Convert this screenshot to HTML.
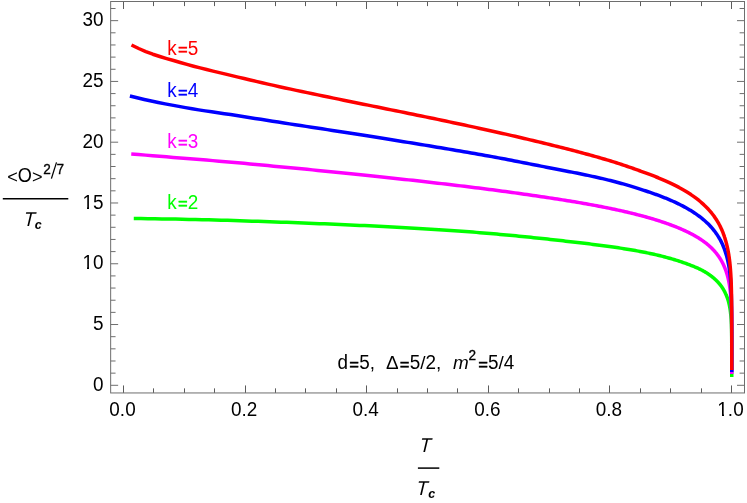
<!DOCTYPE html>
<html><head><meta charset="utf-8"><title>plot</title>
<style>html,body{margin:0;padding:0;background:#fff;}body{width:747px;height:503px;overflow:hidden;font-family:"Liberation Sans",sans-serif;}</style></head>
<body>
<svg width="747" height="503" viewBox="0 0 747 503" style="display:block;will-change:transform">
<rect width="747" height="503" fill="#fff"/>
<path d="M133.76 218.54 L140.91 218.61 L147.99 218.69 L155.00 218.78 L161.94 218.88 L168.81 218.99 L175.61 219.11 L182.34 219.24 L189.00 219.38 L195.60 219.53 L202.13 219.69 L208.59 219.85 L214.99 220.02 L221.32 220.19 L227.58 220.37 L233.78 220.56 L239.92 220.74 L246.00 220.94 L252.01 221.13 L257.96 221.33 L263.85 221.53 L269.68 221.73 L275.44 221.94 L281.15 222.15 L286.80 222.36 L292.38 222.57 L297.91 222.79 L303.38 223.00 L308.80 223.21 L314.15 223.43 L319.45 223.64 L324.70 223.85 L329.88 224.07 L335.02 224.29 L340.09 224.50 L345.12 224.72 L350.09 224.94 L355.00 225.16 L359.87 225.38 L364.68 225.60 L369.44 225.83 L374.14 226.05 L378.80 226.28 L383.40 226.51 L387.96 226.74 L392.47 226.98 L396.92 227.21 L401.33 227.45 L405.69 227.69 L410.00 227.93 L414.26 228.18 L418.48 228.42 L422.65 228.67 L426.77 228.92 L430.84 229.18 L434.88 229.43 L438.86 229.69 L442.80 229.95 L446.70 230.21 L450.55 230.47 L454.36 230.74 L458.13 231.01 L461.85 231.28 L465.53 231.55 L469.17 231.82 L472.77 232.10 L476.33 232.38 L479.84 232.66 L483.32 232.94 L486.75 233.23 L490.15 233.52 L493.50 233.80 L496.82 234.09 L500.10 234.39 L503.34 234.68 L506.54 234.97 L509.71 235.27 L512.83 235.56 L515.92 235.86 L518.98 236.15 L522.00 236.45 L524.98 236.75 L527.92 237.04 L530.84 237.34 L533.71 237.64 L536.56 237.93 L539.36 238.23 L542.14 238.52 L544.88 238.82 L547.59 239.11 L550.26 239.40 L552.90 239.70 L555.52 239.99 L558.09 240.28 L560.64 240.57 L563.16 240.86 L565.64 241.15 L568.09 241.43 L570.52 241.71 L572.91 241.98 L575.28 242.26 L577.61 242.53 L579.92 242.80 L582.19 243.07 L584.44 243.33 L586.66 243.60 L588.85 243.86 L591.02 244.13 L593.15 244.39 L595.26 244.66 L597.35 244.92 L599.40 245.18 L601.43 245.45 L603.43 245.71 L605.41 245.97 L607.36 246.24 L609.29 246.50 L611.19 246.77 L613.07 247.03 L614.92 247.30 L616.75 247.57 L618.56 247.84 L620.34 248.11 L622.10 248.38 L623.83 248.65 L625.54 248.92 L627.23 249.19 L628.90 249.47 L630.54 249.74 L632.16 250.02 L633.76 250.30 L635.34 250.58 L636.90 250.86 L638.43 251.14 L639.95 251.42 L641.44 251.71 L642.92 251.99 L644.37 252.28 L645.81 252.57 L647.22 252.86 L648.62 253.15 L649.99 253.44 L651.35 253.73 L652.68 254.03 L654.00 254.32 L655.30 254.62 L656.59 254.92 L657.85 255.22 L659.10 255.52 L660.33 255.82 L661.54 256.12 L662.73 256.42 L663.91 256.72 L665.07 257.03 L666.21 257.33 L667.34 257.64 L668.45 257.94 L669.55 258.25 L670.63 258.55 L671.69 258.86 L672.74 259.16 L673.77 259.47 L674.79 259.78 L675.79 260.08 L676.78 260.39 L677.75 260.69 L678.71 261.00 L679.65 261.31 L680.58 261.61 L681.50 261.92 L682.40 262.22 L683.29 262.53 L684.16 262.84 L685.03 263.14 L685.87 263.45 L686.71 263.75 L687.53 264.06 L688.34 264.36 L689.14 264.67 L689.93 264.97 L690.70 265.27 L691.46 265.57 L692.21 265.87 L692.95 266.16 L693.68 266.46 L694.39 266.75 L695.09 267.04 L695.79 267.34 L696.47 267.63 L697.14 267.93 L697.80 268.22 L698.45 268.52 L699.09 268.81 L699.71 269.11 L700.33 269.41 L700.94 269.71 L701.54 270.01 L702.13 270.32 L702.71 270.62 L703.27 270.93 L703.83 271.24 L704.39 271.55 L704.93 271.87 L705.46 272.18 L705.98 272.50 L706.50 272.82 L707.00 273.14 L707.50 273.46 L707.99 273.78 L708.47 274.11 L708.94 274.43 L709.41 274.76 L709.86 275.08 L710.31 275.40 L710.75 275.73 L711.18 276.06 L711.61 276.38 L712.03 276.71 L712.44 277.03 L712.84 277.36 L713.24 277.69 L713.63 278.01 L714.01 278.34 L714.39 278.67 L714.75 279.00 L715.12 279.33 L715.47 279.66 L715.82 279.98 L716.16 280.31 L716.50 280.64 L716.83 280.97 L717.15 281.30 L717.47 281.63 L717.78 281.96 L718.09 282.30 L718.39 282.63 L718.69 282.96 L718.98 283.29 L719.26 283.62 L719.54 283.95 L719.81 284.29 L720.08 284.62 L720.34 284.95 L720.60 285.29 L720.85 285.62 L721.10 285.95 L721.35 286.29 L721.58 286.62 L721.82 286.96 L722.05 287.29 L722.27 287.63 L722.49 287.96 L722.71 288.30 L722.92 288.63 L723.13 288.97 L723.33 289.31 L723.53 289.64 L723.72 289.98 L723.91 290.32 L724.10 290.65 L724.28 290.99 L724.46 291.33 L724.64 291.67 L724.81 292.00 L724.98 292.34 L725.14 292.68 L725.30 293.02 L725.46 293.36 L725.63 293.70 L725.78 294.04 L725.94 294.38 L726.09 294.72 L726.23 295.06 L726.38 295.40 L726.52 295.74 L726.66 296.08 L726.79 296.42 L726.92 296.76 L727.05 297.11 L727.18 297.45 L727.30 297.79 L727.42 298.13 L727.54 298.47 L727.66 298.82 L727.77 299.16 L727.88 299.50 L727.99 299.85 L728.09 300.19 L728.19 300.53 L728.29 300.88 L728.39 301.22 L728.49 301.57 L728.58 301.91 L728.67 302.26 L728.76 302.60 L728.84 302.95 L728.93 303.30 L729.01 303.64 L729.09 303.99 L729.17 304.34 L729.25 304.68 L729.32 305.03 L729.39 305.38 L729.46 305.73 L729.53 306.07 L729.60 306.42 L729.67 306.77 L729.73 307.12 L729.79 307.47 L729.85 307.82 L729.91 308.17 L729.97 308.52 L730.03 308.87 L730.08 309.22 L730.13 309.57 L730.19 309.92 L730.24 310.27 L730.29 310.62 L730.33 310.97 L730.38 311.33 L730.42 311.68 L730.47 312.03 L730.51 312.38 L730.55 312.74 L730.59 313.09 L730.63 313.44 L730.67 313.80 L730.71 314.15 L730.74 314.51 L730.78 314.86 L730.81 315.22 L730.84 315.57 L730.88 315.93 L730.91 316.29 L730.94 316.64 L730.97 317.00 L730.99 317.36 L731.02 317.71 L731.05 318.07 L731.07 318.43 L731.10 318.79 L731.12 319.15 L731.15 319.51 L731.17 319.87 L731.19 320.22 L731.21 320.58 L731.23 320.95 L731.25 321.31 L731.27 321.67 L731.29 322.03 L731.31 322.39 L731.33 322.75 L731.34 323.11 L731.36 323.48 L731.38 323.84 L731.39 324.20 L731.41 324.57 L731.42 324.93 L731.43 325.30 L731.45 325.66 L731.46 326.03 L731.47 326.39 L731.48 326.76 L731.49 327.13 L731.51 327.49 L731.52 327.86 L731.53 328.23 L731.54 328.59 L731.55 328.96 L731.56 329.33 L731.56 329.70 L731.57 330.07 L731.58 330.44 L731.59 330.81 L731.60 331.18 L731.60 331.55 L731.61 331.93 L731.62 332.30 L731.62 332.67 L731.63 333.04 L731.64 333.42 L731.64 333.79 L731.65 334.16 L731.65 334.54 L731.66 334.92 L731.66 335.29 L731.67 335.67 L731.67 336.04 L731.67 336.42 L731.68 336.80 L731.68 337.18 L731.69 337.56 L731.69 337.93 L731.69 338.31 L731.70 338.69 L731.70 339.08 L731.70 339.46 L731.70 339.84 L731.71 340.22 L731.71 340.60 L731.71 340.99 L731.71 341.37 L731.72 341.76 L731.72 342.14 L731.72 342.53 L731.72 342.91 L731.72 343.30 L731.73 343.69 L731.73 344.07 L731.73 344.46 L731.73 344.85 L731.73 345.24 L731.73 345.63 L731.73 346.02 L731.73 346.42 L731.74 346.81 L731.74 347.20 L731.74 347.59 L731.74 347.99 L731.74 348.38 L731.74 348.78 L731.74 349.18 L731.74 349.57 L731.74 349.97 L731.74 350.37 L731.74 350.77 L731.74 351.17 L731.74 351.57 L731.74 351.97 L731.75 352.38 L731.75 352.78 L731.75 353.18 L731.75 353.59 L731.75 354.00 L731.75 354.40 L731.75 354.81 L731.75 355.22 L731.75 355.63 L731.75 356.04 L731.75 356.45 L731.75 356.86 L731.75 357.28 L731.75 357.69 L731.75 358.11 L731.75 358.53 L731.75 358.94 L731.75 359.36 L731.75 359.78 L731.75 360.20 L731.75 360.63 L731.75 361.05 L731.75 361.47 L731.75 361.90 L731.75 362.33 L731.75 362.76 L731.75 363.19 L731.75 363.62 L731.75 364.05 L731.75 364.49 L731.75 364.92 L731.75 365.36 L731.75 365.80 L731.75 366.24 L731.75 366.68 L731.75 367.12 L731.75 367.57 L731.75 368.02 L731.75 368.47 L731.75 368.92 L731.75 369.37 L731.75 369.83 L731.75 370.29 L731.75 370.75 L731.75 371.21 L731.75 371.68 L731.75 372.15 L731.75 372.62 L731.75 373.09 L731.75 373.57 L731.75 374.05 L731.75 374.53 L731.75 375.02 L731.75 375.51 L731.75 376.01 L731.75 376.51 L731.75 377.00" fill="none" stroke="#00ff00" stroke-width="3.5" stroke-linejoin="round"/>
<path d="M131.26 153.95 L138.44 154.55 L145.55 155.13 L152.59 155.71 L159.56 156.28 L166.45 156.84 L173.28 157.40 L180.04 157.95 L186.73 158.50 L193.36 159.05 L199.91 159.58 L206.40 160.11 L212.82 160.62 L219.18 161.15 L225.47 161.69 L231.70 162.24 L237.87 162.79 L243.97 163.35 L250.00 163.91 L255.98 164.48 L261.89 165.04 L267.74 165.60 L273.54 166.15 L279.27 166.70 L284.94 167.25 L290.55 167.79 L296.10 168.31 L301.59 168.84 L307.03 169.36 L312.41 169.88 L317.73 170.40 L323.00 170.91 L328.20 171.43 L333.36 171.94 L338.46 172.45 L343.50 172.96 L348.49 173.47 L353.43 173.98 L358.31 174.48 L363.14 174.98 L367.92 175.48 L372.65 175.98 L377.32 176.47 L381.95 176.97 L386.52 177.46 L391.05 177.95 L395.52 178.43 L399.95 178.91 L404.32 179.40 L408.65 179.87 L412.93 180.35 L417.17 180.82 L421.35 181.30 L425.49 181.76 L429.59 182.23 L433.63 182.70 L437.64 183.16 L441.60 183.62 L445.51 184.08 L449.38 184.53 L453.20 184.98 L456.98 185.44 L460.72 185.88 L464.42 186.33 L468.07 186.78 L471.69 187.22 L475.26 187.66 L478.79 188.10 L482.28 188.53 L485.73 188.97 L489.14 189.40 L492.51 189.84 L495.84 190.28 L499.13 190.71 L502.38 191.15 L505.60 191.58 L508.78 192.01 L511.92 192.45 L515.02 192.88 L518.09 193.31 L521.12 193.73 L524.11 194.16 L527.07 194.58 L530.00 195.01 L532.89 195.43 L535.74 195.84 L538.56 196.26 L541.35 196.67 L544.10 197.08 L546.82 197.49 L549.50 197.89 L552.16 198.30 L554.78 198.70 L557.37 199.09 L559.93 199.49 L562.45 199.88 L564.95 200.27 L567.41 200.67 L569.85 201.06 L572.25 201.45 L574.62 201.85 L576.97 202.24 L579.28 202.63 L581.57 203.02 L583.83 203.42 L586.05 203.81 L588.26 204.20 L590.43 204.60 L592.57 204.99 L594.69 205.38 L596.78 205.77 L598.85 206.17 L600.89 206.56 L602.90 206.95 L604.88 207.35 L606.85 207.74 L608.78 208.13 L610.69 208.52 L612.58 208.92 L614.44 209.31 L616.27 209.71 L618.08 210.10 L619.87 210.49 L621.64 210.89 L623.38 211.28 L625.10 211.68 L626.79 212.07 L628.47 212.46 L630.12 212.86 L631.75 213.25 L633.35 213.65 L634.94 214.04 L636.50 214.44 L638.04 214.83 L639.57 215.23 L641.07 215.63 L642.55 216.02 L644.01 216.42 L645.45 216.81 L646.87 217.21 L648.27 217.61 L649.65 218.00 L651.01 218.40 L652.36 218.80 L653.68 219.20 L654.99 219.59 L656.27 219.99 L657.54 220.38 L658.79 220.78 L660.03 221.18 L661.25 221.57 L662.44 221.97 L663.63 222.36 L664.79 222.76 L665.94 223.15 L667.07 223.55 L668.19 223.94 L669.29 224.34 L670.37 224.73 L671.44 225.13 L672.49 225.52 L673.53 225.92 L674.55 226.32 L675.56 226.71 L676.55 227.11 L677.52 227.50 L678.49 227.90 L679.43 228.30 L680.37 228.70 L681.29 229.09 L682.19 229.49 L683.09 229.89 L683.97 230.29 L684.83 230.68 L685.68 231.08 L686.52 231.48 L687.35 231.88 L688.16 232.28 L688.96 232.68 L689.75 233.08 L690.53 233.48 L691.29 233.88 L692.05 234.28 L692.79 234.67 L693.52 235.07 L694.24 235.47 L694.94 235.87 L695.64 236.26 L696.32 236.66 L696.99 237.06 L697.66 237.46 L698.31 237.86 L698.95 238.26 L699.58 238.66 L700.20 239.06 L700.81 239.46 L701.41 239.86 L702.00 240.26 L702.59 240.66 L703.16 241.06 L703.72 241.47 L704.27 241.87 L704.82 242.28 L705.35 242.68 L705.88 243.09 L706.39 243.49 L706.90 243.90 L707.40 244.31 L707.89 244.72 L708.37 245.13 L708.85 245.54 L709.31 245.95 L709.77 246.36 L710.22 246.77 L710.67 247.18 L711.10 247.60 L711.53 248.01 L711.95 248.42 L712.36 248.84 L712.76 249.26 L713.16 249.67 L713.55 250.09 L713.94 250.51 L714.31 250.92 L714.68 251.34 L715.05 251.76 L715.40 252.18 L715.76 252.59 L716.10 253.01 L716.44 253.43 L716.77 253.85 L717.09 254.27 L717.41 254.69 L717.73 255.11 L718.04 255.53 L718.34 255.95 L718.63 256.37 L718.92 256.79 L719.21 257.21 L719.49 257.63 L719.76 258.05 L720.03 258.47 L720.30 258.89 L720.56 259.31 L720.81 259.74 L721.06 260.16 L721.30 260.58 L721.54 261.00 L721.78 261.43 L722.01 261.85 L722.23 262.27 L722.45 262.70 L722.67 263.12 L722.88 263.54 L723.09 263.97 L723.30 264.39 L723.50 264.82 L723.69 265.24 L723.88 265.67 L724.07 266.09 L724.25 266.52 L724.43 266.95 L724.61 267.37 L724.78 267.80 L724.95 268.23 L725.12 268.65 L725.28 269.08 L725.44 269.51 L725.60 269.94 L725.76 270.36 L725.91 270.79 L726.06 271.22 L726.21 271.65 L726.36 272.08 L726.50 272.51 L726.64 272.94 L726.77 273.37 L726.90 273.80 L727.03 274.23 L727.16 274.66 L727.28 275.09 L727.41 275.52 L727.52 275.96 L727.64 276.39 L727.75 276.82 L727.86 277.25 L727.97 277.69 L728.08 278.12 L728.18 278.55 L728.28 278.99 L728.38 279.42 L728.47 279.85 L728.57 280.29 L728.66 280.72 L728.75 281.16 L728.83 281.59 L728.92 282.03 L729.00 282.47 L729.08 282.90 L729.16 283.34 L729.24 283.78 L729.31 284.21 L729.38 284.65 L729.46 285.09 L729.52 285.53 L729.59 285.97 L729.66 286.41 L729.72 286.85 L729.78 287.29 L729.85 287.73 L729.91 288.17 L729.96 288.61 L730.02 289.05 L730.07 289.49 L730.13 289.93 L730.18 290.37 L730.23 290.82 L730.28 291.26 L730.33 291.70 L730.37 292.14 L730.42 292.59 L730.46 293.03 L730.51 293.48 L730.55 293.92 L730.59 294.37 L730.63 294.81 L730.66 295.26 L730.70 295.70 L730.74 296.15 L730.77 296.60 L730.81 297.05 L730.84 297.49 L730.87 297.94 L730.90 298.39 L730.93 298.84 L730.96 299.29 L730.99 299.74 L731.02 300.19 L731.05 300.64 L731.07 301.09 L731.10 301.54 L731.12 301.99 L731.14 302.45 L731.17 302.90 L731.19 303.35 L731.21 303.80 L731.23 304.26 L731.25 304.71 L731.27 305.17 L731.29 305.62 L731.31 306.08 L731.32 306.53 L731.34 306.99 L731.36 307.45 L731.37 307.90 L731.39 308.36 L731.40 308.82 L731.42 309.28 L731.43 309.74 L731.45 310.20 L731.46 310.66 L731.47 311.12 L731.48 311.58 L731.49 312.04 L731.50 312.50 L731.52 312.96 L731.53 313.43 L731.54 313.89 L731.55 314.35 L731.55 314.82 L731.56 315.28 L731.57 315.75 L731.58 316.22 L731.59 316.68 L731.60 317.15 L731.60 317.62 L731.61 318.09 L731.62 318.55 L731.62 319.02 L731.63 319.49 L731.64 319.96 L731.64 320.43 L731.65 320.91 L731.65 321.38 L731.66 321.85 L731.66 322.32 L731.67 322.80 L731.67 323.27 L731.67 323.75 L731.68 324.22 L731.68 324.70 L731.69 325.18 L731.69 325.65 L731.69 326.13 L731.70 326.61 L731.70 327.09 L731.70 327.57 L731.70 328.05 L731.71 328.53 L731.71 329.01 L731.71 329.50 L731.71 329.98 L731.72 330.46 L731.72 330.95 L731.72 331.43 L731.72 331.92 L731.72 332.41 L731.73 332.90 L731.73 333.38 L731.73 333.87 L731.73 334.36 L731.73 334.86 L731.73 335.35 L731.73 335.84 L731.73 336.33 L731.74 336.83 L731.74 337.32 L731.74 337.82 L731.74 338.31 L731.74 338.81 L731.74 339.31 L731.74 339.81 L731.74 340.31 L731.74 340.81 L731.74 341.31 L731.74 341.82 L731.74 342.32 L731.74 342.83 L731.74 343.33 L731.75 343.84 L731.75 344.35 L731.75 344.86 L731.75 345.37 L731.75 345.88 L731.75 346.39 L731.75 346.91 L731.75 347.42 L731.75 347.94 L731.75 348.45 L731.75 348.97 L731.75 349.49 L731.75 350.01 L731.75 350.53 L731.75 351.06 L731.75 351.58 L731.75 352.11 L731.75 352.64 L731.75 353.17 L731.75 353.70 L731.75 354.23 L731.75 354.76 L731.75 355.30 L731.75 355.83 L731.75 356.37 L731.75 356.91 L731.75 357.45 L731.75 358.00 L731.75 358.54 L731.75 359.09 L731.75 359.64 L731.75 360.19 L731.75 360.74 L731.75 361.30 L731.75 361.85 L731.75 362.41 L731.75 362.97 L731.75 363.54 L731.75 364.10 L731.75 364.67 L731.75 365.25 L731.75 365.82 L731.75 366.40 L731.75 366.98 L731.75 367.56 L731.75 368.15 L731.75 368.74 L731.75 369.33 L731.75 369.93 L731.75 370.53 L731.75 371.13 L731.75 371.74 L731.75 372.36 L731.75 372.97 L731.75 373.60 L731.75 374.00" fill="none" stroke="#ff00ff" stroke-width="3.5" stroke-linejoin="round"/>
<path d="M129.90 96.00 L137.10 97.82 L144.22 99.52 L151.28 101.07 L158.26 102.50 L165.17 103.85 L172.02 105.13 L178.79 106.38 L185.50 107.61 L192.14 108.78 L198.71 109.88 L205.21 110.87 L211.65 111.79 L218.02 112.70 L224.33 113.65 L230.57 114.60 L236.75 115.55 L242.86 116.50 L248.91 117.46 L254.90 118.40 L260.83 119.34 L266.69 120.27 L272.50 121.19 L278.24 122.09 L283.92 122.98 L289.55 123.86 L295.11 124.71 L300.62 125.55 L306.07 126.38 L311.46 127.21 L316.79 128.02 L322.07 128.84 L327.29 129.64 L332.46 130.44 L337.57 131.23 L342.62 132.02 L347.62 132.80 L352.57 133.57 L357.47 134.34 L362.31 135.10 L367.10 135.85 L371.84 136.60 L376.52 137.34 L381.16 138.08 L385.74 138.81 L390.28 139.53 L394.76 140.25 L399.20 140.97 L403.58 141.67 L407.92 142.38 L412.21 143.07 L416.45 143.77 L420.65 144.45 L424.80 145.13 L428.90 145.81 L432.96 146.48 L436.97 147.15 L440.94 147.81 L444.86 148.47 L448.74 149.12 L452.57 149.77 L456.36 150.41 L460.11 151.05 L463.82 151.69 L467.48 152.32 L471.10 152.94 L474.68 153.56 L478.22 154.18 L481.71 154.80 L485.17 155.41 L488.59 156.02 L491.97 156.63 L495.30 157.25 L498.60 157.86 L501.86 158.48 L505.09 159.09 L508.27 159.70 L511.42 160.30 L514.53 160.91 L517.61 161.51 L520.64 162.10 L523.64 162.69 L526.61 163.27 L529.54 163.85 L532.44 164.42 L535.30 164.99 L538.12 165.55 L540.92 166.10 L543.67 166.64 L546.40 167.18 L549.09 167.71 L551.75 168.23 L554.38 168.74 L556.97 169.25 L559.54 169.75 L562.07 170.24 L564.57 170.72 L567.04 171.19 L569.48 171.67 L571.89 172.14 L574.27 172.61 L576.62 173.08 L578.94 173.54 L581.23 174.01 L583.49 174.48 L585.73 174.94 L587.93 175.41 L590.11 175.87 L592.26 176.34 L594.38 176.80 L596.48 177.27 L598.55 177.74 L600.59 178.20 L602.61 178.67 L604.60 179.14 L606.56 179.61 L608.50 180.08 L610.42 180.55 L612.31 181.03 L614.17 181.51 L616.01 181.99 L617.83 182.47 L619.62 182.96 L621.39 183.45 L623.13 183.94 L624.86 184.43 L626.56 184.93 L628.23 185.42 L629.89 185.91 L631.52 186.40 L633.13 186.90 L634.72 187.39 L636.29 187.87 L637.83 188.36 L639.36 188.85 L640.86 189.33 L642.35 189.81 L643.81 190.29 L645.25 190.77 L646.68 191.25 L648.08 191.72 L649.46 192.19 L650.83 192.66 L652.18 193.12 L653.50 193.58 L654.81 194.05 L656.10 194.51 L657.38 194.97 L658.63 195.44 L659.87 195.90 L661.09 196.36 L662.29 196.83 L663.47 197.29 L664.64 197.76 L665.79 198.22 L666.93 198.69 L668.04 199.15 L669.15 199.62 L670.23 200.08 L671.30 200.55 L672.36 201.01 L673.40 201.48 L674.42 201.95 L675.43 202.41 L676.42 202.88 L677.40 203.35 L678.37 203.81 L679.32 204.28 L680.25 204.75 L681.17 205.22 L682.08 205.68 L682.98 206.15 L683.86 206.62 L684.73 207.09 L685.58 207.56 L686.42 208.03 L687.25 208.49 L688.07 208.96 L688.87 209.43 L689.66 209.90 L690.44 210.37 L691.20 210.84 L691.96 211.31 L692.70 211.78 L693.43 212.25 L694.15 212.73 L694.86 213.20 L695.56 213.67 L696.24 214.14 L696.92 214.61 L697.58 215.08 L698.23 215.56 L698.88 216.03 L699.51 216.50 L700.13 216.97 L700.74 217.45 L701.34 217.92 L701.94 218.39 L702.52 218.87 L703.09 219.34 L703.66 219.82 L704.21 220.29 L704.75 220.77 L705.29 221.24 L705.82 221.72 L706.34 222.19 L706.84 222.67 L707.35 223.14 L707.84 223.62 L708.32 224.10 L708.80 224.57 L709.26 225.05 L709.72 225.53 L710.17 226.00 L710.62 226.48 L711.05 226.96 L711.48 227.44 L711.90 227.91 L712.32 228.39 L712.72 228.87 L713.12 229.35 L713.51 229.83 L713.90 230.31 L714.28 230.79 L714.65 231.27 L715.01 231.75 L715.37 232.23 L715.72 232.71 L716.06 233.19 L716.40 233.67 L716.74 234.15 L717.06 234.64 L717.38 235.12 L717.70 235.60 L718.00 236.08 L718.31 236.57 L718.60 237.05 L718.90 237.53 L719.18 238.02 L719.46 238.50 L719.74 238.98 L720.01 239.47 L720.27 239.95 L720.53 240.44 L720.79 240.92 L721.04 241.41 L721.28 241.89 L721.52 242.38 L721.76 242.87 L721.99 243.35 L722.21 243.84 L722.43 244.33 L722.65 244.81 L722.86 245.30 L723.07 245.79 L723.28 246.28 L723.48 246.77 L723.67 247.25 L723.87 247.74 L724.05 248.23 L724.24 248.72 L724.42 249.21 L724.59 249.70 L724.77 250.19 L724.94 250.68 L725.10 251.18 L725.26 251.67 L725.42 252.16 L725.59 252.65 L725.74 253.14 L725.90 253.64 L726.05 254.13 L726.20 254.62 L726.34 255.12 L726.49 255.61 L726.63 256.10 L726.76 256.60 L726.89 257.09 L727.02 257.59 L727.15 258.08 L727.27 258.58 L727.40 259.08 L727.51 259.57 L727.63 260.07 L727.74 260.57 L727.85 261.06 L727.96 261.56 L728.07 262.06 L728.17 262.56 L728.27 263.06 L728.37 263.56 L728.46 264.06 L728.56 264.56 L728.65 265.06 L728.74 265.56 L728.83 266.06 L728.91 266.56 L728.99 267.06 L729.07 267.56 L729.15 268.06 L729.23 268.57 L729.31 269.07 L729.38 269.57 L729.45 270.08 L729.52 270.58 L729.59 271.08 L729.65 271.59 L729.72 272.09 L729.78 272.60 L729.84 273.11 L729.90 273.61 L729.96 274.12 L730.02 274.63 L730.07 275.13 L730.12 275.64 L730.18 276.15 L730.23 276.66 L730.28 277.17 L730.32 277.68 L730.37 278.19 L730.42 278.70 L730.46 279.21 L730.50 279.72 L730.54 280.23 L730.58 280.74 L730.62 281.25 L730.66 281.77 L730.70 282.28 L730.74 282.79 L730.77 283.31 L730.80 283.82 L730.84 284.34 L730.87 284.85 L730.90 285.37 L730.93 285.89 L730.96 286.40 L730.99 286.92 L731.02 287.44 L731.04 287.95 L731.07 288.47 L731.09 288.99 L731.12 289.51 L731.14 290.03 L731.17 290.55 L731.19 291.07 L731.21 291.59 L731.23 292.12 L731.25 292.64 L731.27 293.16 L731.29 293.68 L731.31 294.21 L731.32 294.73 L731.34 295.26 L731.36 295.78 L731.37 296.31 L731.39 296.83 L731.40 297.36 L731.42 297.89 L731.43 298.42 L731.44 298.94 L731.46 299.47 L731.47 300.00 L731.48 300.53 L731.49 301.06 L731.50 301.59 L731.52 302.13 L731.53 302.66 L731.54 303.19 L731.54 303.73 L731.55 304.26 L731.56 304.79 L731.57 305.33 L731.58 305.87 L731.59 306.40 L731.60 306.94 L731.60 307.48 L731.61 308.01 L731.62 308.55 L731.62 309.09 L731.63 309.63 L731.63 310.17 L731.64 310.72 L731.65 311.26 L731.65 311.80 L731.66 312.34 L731.66 312.89 L731.67 313.43 L731.67 313.98 L731.67 314.52 L731.68 315.07 L731.68 315.62 L731.69 316.17 L731.69 316.72 L731.69 317.27 L731.70 317.82 L731.70 318.37 L731.70 318.92 L731.70 319.47 L731.71 320.03 L731.71 320.58 L731.71 321.14 L731.71 321.69 L731.72 322.25 L731.72 322.81 L731.72 323.36 L731.72 323.92 L731.72 324.48 L731.73 325.04 L731.73 325.61 L731.73 326.17 L731.73 326.73 L731.73 327.30 L731.73 327.86 L731.73 328.43 L731.73 329.00 L731.74 329.56 L731.74 330.13 L731.74 330.70 L731.74 331.27 L731.74 331.85 L731.74 332.42 L731.74 332.99 L731.74 333.57 L731.74 334.15 L731.74 334.72 L731.74 335.30 L731.74 335.88 L731.74 336.46 L731.74 337.04 L731.75 337.63 L731.75 338.21 L731.75 338.80 L731.75 339.38 L731.75 339.97 L731.75 340.56 L731.75 341.15 L731.75 341.74 L731.75 342.34 L731.75 342.93 L731.75 343.53 L731.75 344.13 L731.75 344.72 L731.75 345.33 L731.75 345.93 L731.75 346.53 L731.75 347.14 L731.75 347.74 L731.75 348.35 L731.75 348.96 L731.75 349.57 L731.75 350.19 L731.75 350.80 L731.75 351.42 L731.75 352.04 L731.75 352.66 L731.75 353.28 L731.75 353.90 L731.75 354.53 L731.75 355.16 L731.75 355.79 L731.75 356.43 L731.75 357.06 L731.75 357.70 L731.75 358.34 L731.75 358.98 L731.75 359.63 L731.75 360.28 L731.75 360.93 L731.75 361.58 L731.75 362.24 L731.75 362.90 L731.75 363.56 L731.75 364.23 L731.75 364.90 L731.75 365.58 L731.75 366.25 L731.75 366.94 L731.75 367.62 L731.75 368.31 L731.75 369.01 L731.75 369.71 L731.75 370.42 L731.75 371.13 L731.75 371.85 L731.75 372.00" fill="none" stroke="#0000ff" stroke-width="3.5" stroke-linejoin="round"/>
<path d="M131.50 45.00 L138.68 48.49 L145.79 51.56 L152.82 54.21 L159.79 56.46 L166.68 58.56 L173.51 60.54 L180.26 62.51 L186.95 64.42 L193.57 66.21 L200.12 67.91 L206.61 69.54 L213.03 71.11 L219.39 72.63 L225.68 74.13 L231.90 75.62 L238.06 77.09 L244.16 78.54 L250.20 79.96 L256.17 81.36 L262.08 82.74 L267.93 84.09 L273.72 85.41 L279.45 86.69 L285.11 87.94 L290.72 89.16 L296.27 90.35 L301.77 91.50 L307.20 92.64 L312.58 93.76 L317.90 94.86 L323.16 95.95 L328.37 97.03 L333.52 98.09 L338.61 99.13 L343.66 100.17 L348.65 101.18 L353.58 102.19 L358.46 103.19 L363.29 104.17 L368.07 105.14 L372.79 106.10 L377.47 107.05 L382.09 107.99 L386.66 108.92 L391.18 109.84 L395.66 110.75 L400.08 111.65 L404.46 112.55 L408.78 113.43 L413.06 114.31 L417.29 115.18 L421.48 116.04 L425.62 116.89 L429.71 117.74 L433.75 118.58 L437.76 119.41 L441.71 120.24 L445.62 121.06 L449.49 121.87 L453.31 122.68 L457.09 123.48 L460.83 124.27 L464.53 125.07 L468.18 125.85 L471.79 126.63 L475.36 127.41 L478.89 128.18 L482.38 128.94 L485.83 129.70 L489.23 130.46 L492.60 131.21 L495.93 131.96 L499.22 132.70 L502.48 133.43 L505.69 134.16 L508.87 134.89 L512.01 135.61 L515.11 136.32 L518.17 137.03 L521.20 137.74 L524.20 138.44 L527.15 139.14 L530.08 139.83 L532.97 140.51 L535.82 141.20 L538.64 141.87 L541.42 142.55 L544.17 143.21 L546.89 143.88 L549.58 144.54 L552.23 145.19 L554.85 145.84 L557.44 146.49 L559.99 147.13 L562.52 147.77 L565.01 148.40 L567.48 149.03 L569.91 149.66 L572.31 150.28 L574.69 150.90 L577.03 151.52 L579.34 152.14 L581.63 152.75 L583.88 153.35 L586.11 153.96 L588.31 154.56 L590.49 155.16 L592.63 155.76 L594.75 156.35 L596.84 156.94 L598.90 157.53 L600.94 158.12 L602.95 158.70 L604.94 159.29 L606.90 159.87 L608.83 160.44 L610.74 161.02 L612.62 161.60 L614.48 162.17 L616.32 162.75 L618.13 163.34 L619.92 163.92 L621.68 164.50 L623.42 165.08 L625.14 165.66 L626.84 166.23 L628.51 166.81 L630.16 167.38 L631.79 167.95 L633.39 168.51 L634.98 169.08 L636.54 169.63 L638.08 170.19 L639.60 170.74 L641.10 171.28 L642.58 171.82 L644.04 172.36 L645.48 172.89 L646.90 173.42 L648.30 173.94 L649.68 174.46 L651.04 174.97 L652.39 175.48 L653.71 175.99 L655.02 176.49 L656.30 177.00 L657.57 177.50 L658.82 178.01 L660.06 178.52 L661.27 179.02 L662.47 179.53 L663.65 180.04 L664.82 180.54 L665.97 181.05 L667.10 181.56 L668.21 182.07 L669.31 182.57 L670.40 183.08 L671.46 183.59 L672.51 184.10 L673.55 184.61 L674.57 185.12 L675.58 185.63 L676.57 186.14 L677.55 186.65 L678.51 187.16 L679.46 187.67 L680.39 188.18 L681.31 188.69 L682.21 189.20 L683.11 189.71 L683.98 190.22 L684.85 190.73 L685.70 191.24 L686.54 191.75 L687.37 192.27 L688.18 192.78 L688.98 193.29 L689.77 193.80 L690.55 194.32 L691.31 194.83 L692.06 195.34 L692.80 195.86 L693.53 196.37 L694.25 196.89 L694.96 197.40 L695.65 197.92 L696.34 198.43 L697.01 198.95 L697.67 199.46 L698.32 199.98 L698.96 200.49 L699.59 201.01 L700.21 201.52 L700.82 202.04 L701.43 202.56 L702.02 203.08 L702.60 203.59 L703.17 204.11 L703.73 204.63 L704.28 205.15 L704.83 205.66 L705.36 206.18 L705.89 206.70 L706.40 207.22 L706.91 207.74 L707.41 208.26 L707.90 208.78 L708.38 209.30 L708.86 209.82 L709.32 210.34 L709.78 210.86 L710.23 211.38 L710.67 211.90 L711.11 212.43 L711.54 212.95 L711.95 213.47 L712.37 213.99 L712.77 214.51 L713.17 215.04 L713.56 215.56 L713.94 216.08 L714.32 216.61 L714.69 217.13 L715.05 217.66 L715.41 218.18 L715.76 218.71 L716.11 219.23 L716.44 219.76 L716.77 220.28 L717.10 220.81 L717.42 221.33 L717.73 221.86 L718.04 222.39 L718.34 222.91 L718.64 223.44 L718.93 223.97 L719.21 224.50 L719.49 225.03 L719.77 225.55 L720.04 226.08 L720.30 226.61 L720.56 227.14 L720.81 227.67 L721.06 228.20 L721.31 228.73 L721.55 229.26 L721.78 229.79 L722.01 230.32 L722.24 230.86 L722.46 231.39 L722.67 231.92 L722.89 232.45 L723.09 232.98 L723.30 233.52 L723.50 234.05 L723.69 234.58 L723.89 235.12 L724.07 235.65 L724.26 236.19 L724.44 236.72 L724.61 237.26 L724.79 237.79 L724.95 238.33 L725.12 238.87 L725.28 239.40 L725.44 239.94 L725.60 240.48 L725.76 241.01 L725.91 241.55 L726.07 242.09 L726.21 242.63 L726.36 243.17 L726.50 243.71 L726.64 244.25 L726.77 244.79 L726.91 245.33 L727.04 245.87 L727.16 246.41 L727.29 246.95 L727.41 247.49 L727.53 248.03 L727.64 248.58 L727.75 249.12 L727.86 249.66 L727.97 250.20 L728.08 250.75 L728.18 251.29 L728.28 251.84 L728.38 252.38 L728.47 252.93 L728.57 253.47 L728.66 254.02 L728.75 254.57 L728.83 255.11 L728.92 255.66 L729.00 256.21 L729.08 256.75 L729.16 257.30 L729.24 257.85 L729.31 258.40 L729.38 258.95 L729.46 259.50 L729.53 260.05 L729.59 260.60 L729.66 261.15 L729.72 261.70 L729.79 262.26 L729.85 262.81 L729.91 263.36 L729.96 263.91 L730.02 264.47 L730.07 265.02 L730.13 265.58 L730.18 266.13 L730.23 266.69 L730.28 267.24 L730.33 267.80 L730.37 268.36 L730.42 268.91 L730.46 269.47 L730.51 270.03 L730.55 270.59 L730.59 271.15 L730.63 271.71 L730.67 272.27 L730.70 272.83 L730.74 273.39 L730.77 273.95 L730.81 274.51 L730.84 275.07 L730.87 275.63 L730.90 276.20 L730.93 276.76 L730.96 277.32 L730.99 277.89 L731.02 278.45 L731.05 279.02 L731.07 279.59 L731.10 280.15 L731.12 280.72 L731.14 281.29 L731.17 281.86 L731.19 282.42 L731.21 282.99 L731.23 283.56 L731.25 284.13 L731.27 284.70 L731.29 285.27 L731.31 285.85 L731.32 286.42 L731.34 286.99 L731.36 287.57 L731.37 288.14 L731.39 288.71 L731.40 289.29 L731.42 289.87 L731.43 290.44 L731.45 291.02 L731.46 291.60 L731.47 292.17 L731.48 292.75 L731.49 293.33 L731.51 293.91 L731.52 294.49 L731.53 295.07 L731.54 295.66 L731.55 296.24 L731.55 296.82 L731.56 297.40 L731.57 297.99 L731.58 298.57 L731.59 299.16 L731.60 299.75 L731.60 300.33 L731.61 300.92 L731.62 301.51 L731.62 302.10 L731.63 302.69 L731.64 303.28 L731.64 303.87 L731.65 304.46 L731.65 305.05 L731.66 305.65 L731.66 306.24 L731.67 306.84 L731.67 307.43 L731.67 308.03 L731.68 308.63 L731.68 309.22 L731.69 309.82 L731.69 310.42 L731.69 311.02 L731.70 311.62 L731.70 312.22 L731.70 312.83 L731.70 313.43 L731.71 314.03 L731.71 314.64 L731.71 315.25 L731.71 315.85 L731.72 316.46 L731.72 317.07 L731.72 317.68 L731.72 318.29 L731.72 318.90 L731.73 319.51 L731.73 320.13 L731.73 320.74 L731.73 321.36 L731.73 321.97 L731.73 322.59 L731.73 323.21 L731.73 323.83 L731.74 324.45 L731.74 325.07 L731.74 325.69 L731.74 326.32 L731.74 326.94 L731.74 327.57 L731.74 328.19 L731.74 328.82 L731.74 329.45 L731.74 330.08 L731.74 330.71 L731.74 331.35 L731.74 331.98 L731.74 332.62 L731.75 333.25 L731.75 333.89 L731.75 334.53 L731.75 335.17 L731.75 335.81 L731.75 336.46 L731.75 337.10 L731.75 337.75 L731.75 338.39 L731.75 339.04 L731.75 339.69 L731.75 340.35 L731.75 341.00 L731.75 341.66 L731.75 342.31 L731.75 342.97 L731.75 343.63 L731.75 344.29 L731.75 344.96 L731.75 345.62 L731.75 346.29 L731.75 346.96 L731.75 347.63 L731.75 348.31 L731.75 348.98 L731.75 349.66 L731.75 350.34 L731.75 351.02 L731.75 351.71 L731.75 352.39 L731.75 353.08 L731.75 353.77 L731.75 354.47 L731.75 355.17 L731.75 355.87 L731.75 356.57 L731.75 357.27 L731.75 357.98 L731.75 358.69 L731.75 359.41 L731.75 360.12 L731.75 360.84 L731.75 361.57 L731.75 362.30 L731.75 363.03 L731.75 363.77 L731.75 364.51 L731.75 365.25 L731.75 366.00 L731.75 366.76 L731.75 367.51 L731.75 368.28 L731.75 369.05 L731.75 369.83 L731.75 370.00" fill="none" stroke="#ff0000" stroke-width="3.5" stroke-linejoin="round"/>
<path d="M110.65 385.30 H118.15 M744.50 385.30 H737.00 M110.65 373.15 H115.55 M744.50 373.15 H739.60 M110.65 360.99 H115.55 M744.50 360.99 H739.60 M110.65 348.84 H115.55 M744.50 348.84 H739.60 M110.65 336.68 H115.55 M744.50 336.68 H739.60 M110.65 324.53 H118.15 M744.50 324.53 H737.00 M110.65 312.37 H115.55 M744.50 312.37 H739.60 M110.65 300.22 H115.55 M744.50 300.22 H739.60 M110.65 288.06 H115.55 M744.50 288.06 H739.60 M110.65 275.91 H115.55 M744.50 275.91 H739.60 M110.65 263.75 H118.15 M744.50 263.75 H737.00 M110.65 251.60 H115.55 M744.50 251.60 H739.60 M110.65 239.44 H115.55 M744.50 239.44 H739.60 M110.65 227.29 H115.55 M744.50 227.29 H739.60 M110.65 215.13 H115.55 M744.50 215.13 H739.60 M110.65 202.98 H118.15 M744.50 202.98 H737.00 M110.65 190.82 H115.55 M744.50 190.82 H739.60 M110.65 178.67 H115.55 M744.50 178.67 H739.60 M110.65 166.51 H115.55 M744.50 166.51 H739.60 M110.65 154.36 H115.55 M744.50 154.36 H739.60 M110.65 142.20 H118.15 M744.50 142.20 H737.00 M110.65 130.05 H115.55 M744.50 130.05 H739.60 M110.65 117.89 H115.55 M744.50 117.89 H739.60 M110.65 105.74 H115.55 M744.50 105.74 H739.60 M110.65 93.58 H115.55 M744.50 93.58 H739.60 M110.65 81.43 H118.15 M744.50 81.43 H737.00 M110.65 69.27 H115.55 M744.50 69.27 H739.60 M110.65 57.12 H115.55 M744.50 57.12 H739.60 M110.65 44.96 H115.55 M744.50 44.96 H739.60 M110.65 32.81 H115.55 M744.50 32.81 H739.60 M110.65 20.65 H118.15 M744.50 20.65 H737.00 M110.65 8.50 H115.55 M744.50 8.50 H739.60" stroke="#6e6e6e" stroke-width="1" fill="none"/>
<path d="M123.50 392.95 V385.45 M123.50 1.50 V9.00 M153.50 392.95 V388.35 M153.50 1.50 V6.10 M184.50 392.95 V388.35 M184.50 1.50 V6.10 M214.50 392.95 V388.35 M214.50 1.50 V6.10 M245.50 392.95 V385.45 M245.50 1.50 V9.00 M275.50 392.95 V388.35 M275.50 1.50 V6.10 M305.50 392.95 V388.35 M305.50 1.50 V6.10 M336.50 392.95 V388.35 M336.50 1.50 V6.10 M366.50 392.95 V385.45 M366.50 1.50 V9.00 M397.50 392.95 V388.35 M397.50 1.50 V6.10 M427.50 392.95 V388.35 M427.50 1.50 V6.10 M457.50 392.95 V388.35 M457.50 1.50 V6.10 M488.50 392.95 V385.45 M488.50 1.50 V9.00 M518.50 392.95 V388.35 M518.50 1.50 V6.10 M549.50 392.95 V388.35 M549.50 1.50 V6.10 M579.50 392.95 V388.35 M579.50 1.50 V6.10 M609.50 392.95 V385.45 M609.50 1.50 V9.00 M640.50 392.95 V388.35 M640.50 1.50 V6.10 M670.50 392.95 V388.35 M670.50 1.50 V6.10 M701.50 392.95 V388.35 M701.50 1.50 V6.10 M731.50 392.95 V385.45 M731.50 1.50 V9.00" stroke="#5c5c5c" stroke-width="1" fill="none"/>
<rect x="110.65" y="1.50" width="633.85" height="391.45" fill="none" stroke="#6e6e6e" stroke-width="1"/>
<text transform="translate(92.89 391.00) scale(1.000 1.040)" text-anchor="start" font-family="Liberation Sans, sans-serif" font-size="18.90" fill="#000">0</text>
<text transform="translate(92.89 330.23) scale(1.000 1.040)" text-anchor="start" font-family="Liberation Sans, sans-serif" font-size="18.90" fill="#000">5</text>
<text transform="translate(82.38 269.45) scale(1.000 1.040)" text-anchor="start" font-family="Liberation Sans, sans-serif" font-size="18.90" fill="#000">10</text>
<rect x="83" y="267" width="4" height="3" fill="#fff"/>
<rect x="89" y="267" width="4" height="3" fill="#fff"/>
<text transform="translate(82.38 208.68) scale(1.000 1.040)" text-anchor="start" font-family="Liberation Sans, sans-serif" font-size="18.90" fill="#000">15</text>
<rect x="83" y="207" width="4" height="2" fill="#fff"/>
<rect x="89" y="207" width="4" height="2" fill="#fff"/>
<text transform="translate(82.38 147.90) scale(1.000 1.040)" text-anchor="start" font-family="Liberation Sans, sans-serif" font-size="18.90" fill="#000">20</text>
<text transform="translate(82.38 87.13) scale(1.000 1.040)" text-anchor="start" font-family="Liberation Sans, sans-serif" font-size="18.90" fill="#000">25</text>
<text transform="translate(82.38 26.35) scale(1.000 1.040)" text-anchor="start" font-family="Liberation Sans, sans-serif" font-size="18.90" fill="#000">30</text>
<text transform="translate(109.36 415.70) scale(1.000 1.040)" text-anchor="start" font-family="Liberation Sans, sans-serif" font-size="18.90" fill="#000">0</text>
<text transform="translate(119.87 415.70) scale(1.000 1.000)" text-anchor="start" font-family="Liberation Sans, sans-serif" font-size="18.90" fill="#000">.</text>
<text transform="translate(125.13 415.70) scale(1.000 1.040)" text-anchor="start" font-family="Liberation Sans, sans-serif" font-size="18.90" fill="#000">0</text>
<text transform="translate(230.96 415.70) scale(1.000 1.040)" text-anchor="start" font-family="Liberation Sans, sans-serif" font-size="18.90" fill="#000">0</text>
<text transform="translate(241.47 415.70) scale(1.000 1.000)" text-anchor="start" font-family="Liberation Sans, sans-serif" font-size="18.90" fill="#000">.</text>
<text transform="translate(246.73 415.70) scale(1.000 1.040)" text-anchor="start" font-family="Liberation Sans, sans-serif" font-size="18.90" fill="#000">2</text>
<text transform="translate(352.56 415.70) scale(1.000 1.040)" text-anchor="start" font-family="Liberation Sans, sans-serif" font-size="18.90" fill="#000">0</text>
<text transform="translate(363.07 415.70) scale(1.000 1.000)" text-anchor="start" font-family="Liberation Sans, sans-serif" font-size="18.90" fill="#000">.</text>
<text transform="translate(368.33 415.70) scale(1.000 1.040)" text-anchor="start" font-family="Liberation Sans, sans-serif" font-size="18.90" fill="#000">4</text>
<text transform="translate(474.16 415.70) scale(1.000 1.040)" text-anchor="start" font-family="Liberation Sans, sans-serif" font-size="18.90" fill="#000">0</text>
<text transform="translate(484.67 415.70) scale(1.000 1.000)" text-anchor="start" font-family="Liberation Sans, sans-serif" font-size="18.90" fill="#000">.</text>
<text transform="translate(489.93 415.70) scale(1.000 1.040)" text-anchor="start" font-family="Liberation Sans, sans-serif" font-size="18.90" fill="#000">6</text>
<text transform="translate(595.76 415.70) scale(1.000 1.040)" text-anchor="start" font-family="Liberation Sans, sans-serif" font-size="18.90" fill="#000">0</text>
<text transform="translate(606.27 415.70) scale(1.000 1.000)" text-anchor="start" font-family="Liberation Sans, sans-serif" font-size="18.90" fill="#000">.</text>
<text transform="translate(611.53 415.70) scale(1.000 1.040)" text-anchor="start" font-family="Liberation Sans, sans-serif" font-size="18.90" fill="#000">8</text>
<text transform="translate(717.36 415.70) scale(1.000 1.040)" text-anchor="start" font-family="Liberation Sans, sans-serif" font-size="18.90" fill="#000">1</text>
<rect x="718" y="414" width="4" height="2" fill="#fff"/>
<rect x="724" y="414" width="4" height="2" fill="#fff"/>
<text transform="translate(727.87 415.70) scale(1.000 1.000)" text-anchor="start" font-family="Liberation Sans, sans-serif" font-size="18.90" fill="#000">.</text>
<text transform="translate(733.13 415.70) scale(1.000 1.040)" text-anchor="start" font-family="Liberation Sans, sans-serif" font-size="18.90" fill="#000">0</text>
<text transform="translate(167.30 54.60) scale(1.000 1.045)" text-anchor="start" font-family="Liberation Sans, sans-serif" font-size="18.90" fill="#ff0000">k</text>
<text transform="translate(177.95 55.10) scale(0.880 0.880)" text-anchor="start" font-family="Liberation Sans, sans-serif" font-size="18.90" fill="#ff0000" stroke="#ff0000" stroke-width="0.45">=</text>
<text transform="translate(187.79 54.60) scale(1.000 1.040)" text-anchor="start" font-family="Liberation Sans, sans-serif" font-size="18.90" fill="#ff0000">5</text>
<text transform="translate(167.30 97.00) scale(1.000 1.045)" text-anchor="start" font-family="Liberation Sans, sans-serif" font-size="18.90" fill="#0000ff">k</text>
<text transform="translate(177.95 97.50) scale(0.880 0.880)" text-anchor="start" font-family="Liberation Sans, sans-serif" font-size="18.90" fill="#0000ff" stroke="#0000ff" stroke-width="0.45">=</text>
<text transform="translate(187.79 97.00) scale(1.000 1.040)" text-anchor="start" font-family="Liberation Sans, sans-serif" font-size="18.90" fill="#0000ff">4</text>
<text transform="translate(167.30 147.90) scale(1.000 1.045)" text-anchor="start" font-family="Liberation Sans, sans-serif" font-size="18.90" fill="#ff00ff">k</text>
<text transform="translate(177.95 148.40) scale(0.880 0.880)" text-anchor="start" font-family="Liberation Sans, sans-serif" font-size="18.90" fill="#ff00ff" stroke="#ff00ff" stroke-width="0.45">=</text>
<text transform="translate(187.79 147.90) scale(1.000 1.040)" text-anchor="start" font-family="Liberation Sans, sans-serif" font-size="18.90" fill="#ff00ff">3</text>
<text transform="translate(167.30 208.90) scale(1.000 1.045)" text-anchor="start" font-family="Liberation Sans, sans-serif" font-size="18.90" fill="#00ff00">k</text>
<text transform="translate(177.95 209.40) scale(0.880 0.880)" text-anchor="start" font-family="Liberation Sans, sans-serif" font-size="18.90" fill="#00ff00" stroke="#00ff00" stroke-width="0.45">=</text>
<text transform="translate(187.79 208.90) scale(1.000 1.040)" text-anchor="start" font-family="Liberation Sans, sans-serif" font-size="18.90" fill="#00ff00">2</text>
<text transform="translate(337.60 369.20) scale(1.000 1.045)" text-anchor="start" font-family="Liberation Sans, sans-serif" font-size="18.90" fill="#000">d</text>
<text transform="translate(349.31 369.70) scale(0.880 0.880)" text-anchor="start" font-family="Liberation Sans, sans-serif" font-size="18.90" fill="#000" stroke="#000" stroke-width="0.45">=</text>
<text transform="translate(359.15 369.20) scale(1.000 1.040)" text-anchor="start" font-family="Liberation Sans, sans-serif" font-size="18.90" fill="#000">5</text>
<text transform="translate(369.66 369.20) scale(1.000 1.000)" text-anchor="start" font-family="Liberation Sans, sans-serif" font-size="18.90" fill="#000">,</text>
<text transform="translate(386.00 369.20) scale(1.000 0.995)" text-anchor="start" font-family="Liberation Sans, sans-serif" font-size="18.90" fill="#000">Δ</text>
<text transform="translate(399.82 369.70) scale(0.880 0.880)" text-anchor="start" font-family="Liberation Sans, sans-serif" font-size="18.90" fill="#000" stroke="#000" stroke-width="0.45">=</text>
<text transform="translate(409.66 369.20) scale(1.000 1.040)" text-anchor="start" font-family="Liberation Sans, sans-serif" font-size="18.90" fill="#000">5</text>
<text transform="translate(420.17 369.20) scale(1.000 1.000)" text-anchor="start" font-family="Liberation Sans, sans-serif" font-size="18.90" fill="#000">/</text>
<text transform="translate(425.42 369.20) scale(1.000 1.040)" text-anchor="start" font-family="Liberation Sans, sans-serif" font-size="18.90" fill="#000">2</text>
<text transform="translate(435.94 369.20) scale(1.000 1.000)" text-anchor="start" font-family="Liberation Sans, sans-serif" font-size="18.90" fill="#000">,</text>
<text transform="translate(453.00 369.20) scale(1.000 0.985)" text-anchor="start" font-family="Liberation Sans, sans-serif" font-size="18.90" fill="#000" font-style="italic">m</text>
<text transform="translate(468.50 359.70) scale(1.000 1.060)" text-anchor="start" font-family="Liberation Sans, sans-serif" font-size="13.60" fill="#000" stroke="#000" stroke-width="0.30">2</text>
<text transform="translate(478.20 369.70) scale(0.880 0.880)" text-anchor="start" font-family="Liberation Sans, sans-serif" font-size="18.90" fill="#000" stroke="#000" stroke-width="0.45">=</text>
<text transform="translate(488.04 369.20) scale(1.000 1.040)" text-anchor="start" font-family="Liberation Sans, sans-serif" font-size="18.90" fill="#000">5</text>
<text transform="translate(498.55 369.20) scale(1.000 1.000)" text-anchor="start" font-family="Liberation Sans, sans-serif" font-size="18.90" fill="#000">/</text>
<text transform="translate(503.80 369.20) scale(1.000 1.040)" text-anchor="start" font-family="Liberation Sans, sans-serif" font-size="18.90" fill="#000">4</text>
<text transform="translate(419.60 451.70) skewX(-3.3) scale(0.980 1.060)" text-anchor="start" font-family="Liberation Sans, sans-serif" font-size="18.90" fill="#000" font-style="italic">T</text>
<path d="M417.9 468.1 H439.3" stroke="#000" stroke-width="1.5"/>
<text transform="translate(416.20 494.80) skewX(-3.3) scale(0.980 1.060)" text-anchor="start" font-family="Liberation Sans, sans-serif" font-size="18.90" fill="#000" font-style="italic">T</text>
<text transform="translate(428.30 498.10) scale(0.970 1.050)" text-anchor="start" font-family="Liberation Sans, sans-serif" font-size="12.90" fill="#000" font-style="italic" font-weight="bold">c</text>
<text transform="translate(7.20 183.40) scale(0.960 0.930)" text-anchor="start" font-family="Liberation Sans, sans-serif" font-size="18.90" fill="#000">&lt;</text>
<text transform="translate(17.80 182.40) scale(0.960 1.040)" text-anchor="start" font-family="Liberation Sans, sans-serif" font-size="18.90" fill="#000">O</text>
<text transform="translate(31.91 183.40) scale(0.960 0.930)" text-anchor="start" font-family="Liberation Sans, sans-serif" font-size="18.90" fill="#000">&gt;</text>
<text transform="translate(43.30 173.80) scale(1.000 1.060)" text-anchor="start" font-family="Liberation Sans, sans-serif" font-size="13.60" fill="#000" stroke="#000" stroke-width="0.30">2</text>
<text transform="translate(56.50 173.80) scale(1.000 1.060)" text-anchor="start" font-family="Liberation Sans, sans-serif" font-size="13.60" fill="#000" stroke="#000" stroke-width="0.30">7</text>
<path d="M56.5 162.4 L51.4 178.6" stroke="#000" stroke-width="1.25"/>
<path d="M2.8 198.7 H68.3" stroke="#000" stroke-width="1.5"/>
<text transform="translate(23.40 225.60) skewX(-3.3) scale(0.980 1.060)" text-anchor="start" font-family="Liberation Sans, sans-serif" font-size="18.90" fill="#000" font-style="italic">T</text>
<text transform="translate(34.70 228.90) scale(0.970 1.050)" text-anchor="start" font-family="Liberation Sans, sans-serif" font-size="12.90" fill="#000" font-style="italic" font-weight="bold">c</text>
</svg>
</body></html>
